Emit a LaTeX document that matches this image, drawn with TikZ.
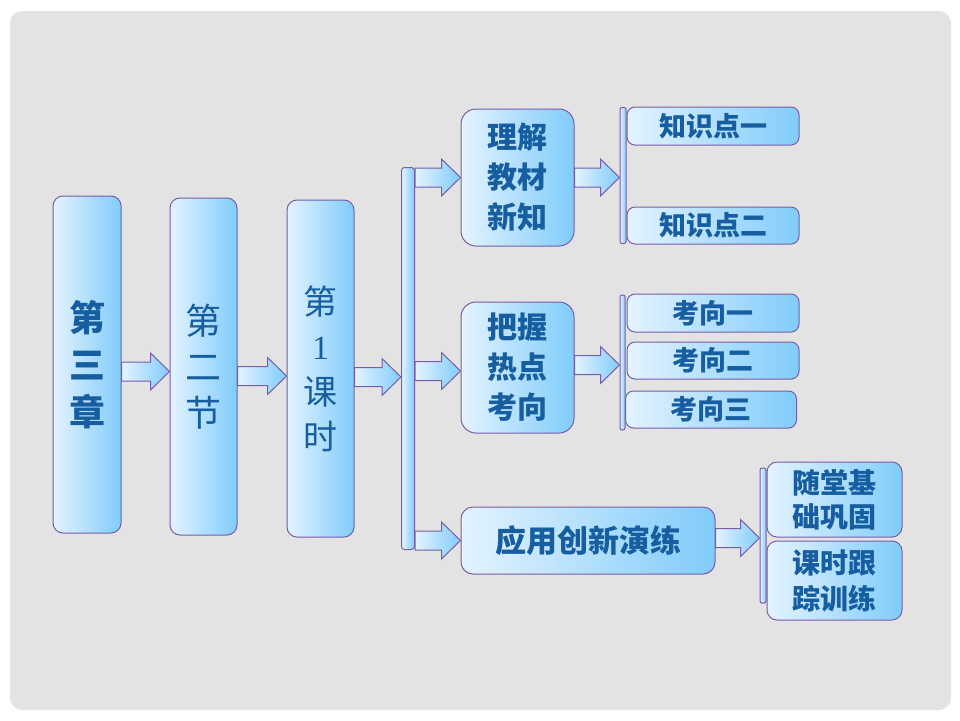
\documentclass[tikz,border=0pt]{standalone}
\usepackage{fontspec}
\newfontfamily\cjk{Noto Sans CJK SC}
\newfontfamily\latinserif{Liberation Serif}
\usetikzlibrary{calc}
\definecolor{bggrey}{RGB}{227,227,227}
\definecolor{boxline}{RGB}{122,92,168}
\definecolor{boxlight}{RGB}{228,243,255}
\definecolor{boxdark}{RGB}{128,204,250}
\definecolor{txtblue}{RGB}{22,94,160}
\newcommand{\blockarr}[2]{%
  \path[blockarrow] let \p1=#1, \p2=#2 in
    (\x1,\y1+9.5pt) -- (\x2-19pt,\y1+9.5pt) -- (\x2-19pt,\y1+18.5pt) -- (\x2,\y1)
    -- (\x2-19pt,\y1-18.5pt) -- (\x2-19pt,\y1-9.5pt) -- (\x1,\y1-9.5pt) -- cycle;}
\begin{document}
\begin{tikzpicture}[x=1pt,y=-1pt,
  box/.style={draw=boxline, line width=1pt, left color=boxlight, right color=boxdark,
    inner sep=0pt, align=center, text=txtblue, font=\cjk\bfseries},
  tallbox/.style={box, rounded corners=10pt, minimum height=337pt},
  bigbox/.style={box, rounded corners=15pt},
  smallbox/.style={box, rounded corners=8pt},
  barbox/.style={draw=boxline, line width=1pt, left color=boxlight, right color=boxdark,
    rounded corners=3pt, inner sep=0pt},
  blockarrow/.style={draw=boxline, line width=1pt, left color=boxlight, right color=boxdark}]
\useasboundingbox (0,0) rectangle (960,720);
\fill[white] (0,0) rectangle (960,720);
\fill[bggrey, rounded corners=12pt] (10,11) rectangle (951,710);

% left column
\node[tallbox, minimum width=68pt, font=\cjk\bfseries\fontsize{36}{47}\selectfont] (c1) at (87,364.5) {第\\三\\章};
\node[tallbox, minimum width=67pt, font=\cjk\fontsize{36}{46}\selectfont] (c2) at (203.5,366.5) {第\\二\\节};
\node[tallbox, minimum width=67pt, font=\cjk\fontsize{34}{45}\selectfont] (c3) at (320.5,368.5) {第\\{\latinserif 1}\\课\\时};
\node[barbox, minimum width=13pt, minimum height=382pt] (bar) at (408,358.5) {};

% middle
\node[bigbox, minimum width=113pt, minimum height=137pt, font=\cjk\bfseries\fontsize{30}{40}\selectfont] (n1) at (517.5,177.5) {理解\\教材\\新知};
\node[bigbox, minimum width=113pt, minimum height=131pt, font=\cjk\bfseries\fontsize{30}{40}\selectfont] (n2) at (517.5,367.5) {把握\\热点\\考向};
\node[box, rounded corners=12pt, minimum width=254pt, minimum height=67pt, font=\cjk\bfseries\fontsize{31}{38}\selectfont] (n3) at (588,540.5) {应用创新演练};

% thin bars
\node[barbox, rounded corners=2pt, minimum width=6pt, minimum height=136pt] (tb1) at (623,175.5) {};
\node[barbox, rounded corners=2pt, minimum width=5pt, minimum height=135pt] (tb2) at (622.5,362.5) {};
\node[barbox, rounded corners=2pt, minimum width=6pt, minimum height=135pt] (tb3) at (763,535.5) {};

% right boxes
\node[smallbox, minimum width=172pt, minimum height=38pt, font=\cjk\bfseries\fontsize{27}{32}\selectfont] (k1) at (713,126) {知识点一};
\node[smallbox, minimum width=172pt, minimum height=37pt, font=\cjk\bfseries\fontsize{27}{32}\selectfont] (k2) at (713,225.5) {知识点二};
\node[smallbox, minimum width=172pt, minimum height=38pt, font=\cjk\bfseries\fontsize{27}{32}\selectfont] (x1) at (713,313) {考向一};
\node[smallbox, minimum width=172pt, minimum height=37pt, font=\cjk\bfseries\fontsize{27}{32}\selectfont] (x2) at (713,360.5) {考向二};
\node[smallbox, minimum width=171pt, minimum height=37pt, font=\cjk\bfseries\fontsize{27}{32}\selectfont] (x3) at (711,409.5) {考向三};
\node[smallbox, rounded corners=10pt, minimum width=135pt, minimum height=75pt, font=\cjk\bfseries\fontsize{28}{34}\selectfont] (s1) at (834.5,499.5) {随堂基\\础巩固};
\node[smallbox, rounded corners=10pt, minimum width=135pt, minimum height=79pt, font=\cjk\bfseries\fontsize{28}{36}\selectfont] (s2) at (834.5,580.5) {课时跟\\踪训练};

% block arrows
\blockarr{($(c1.east)+(0,7)$)}{(c2.west)}
\blockarr{($(c2.east)+(0,9.5)$)}{(c3.west)}
\blockarr{($(c3.east)+(0,8.5)$)}{(bar.west)}
\blockarr{(bar.east |- n1.west)}{(n1.west)}
\blockarr{($(bar.east |- n2.west)+(0,3.5)$)}{(n2.west)}
\blockarr{(bar.east |- n3.west)}{(n3.west)}
\blockarr{(n1.east)}{(tb1.west)}
\blockarr{($(n2.east)+(0,-2.5)$)}{(tb2.west)}
\blockarr{($(n3.east)+(0,-2.5)$)}{(tb3.west)}
\end{tikzpicture}
\end{document}
